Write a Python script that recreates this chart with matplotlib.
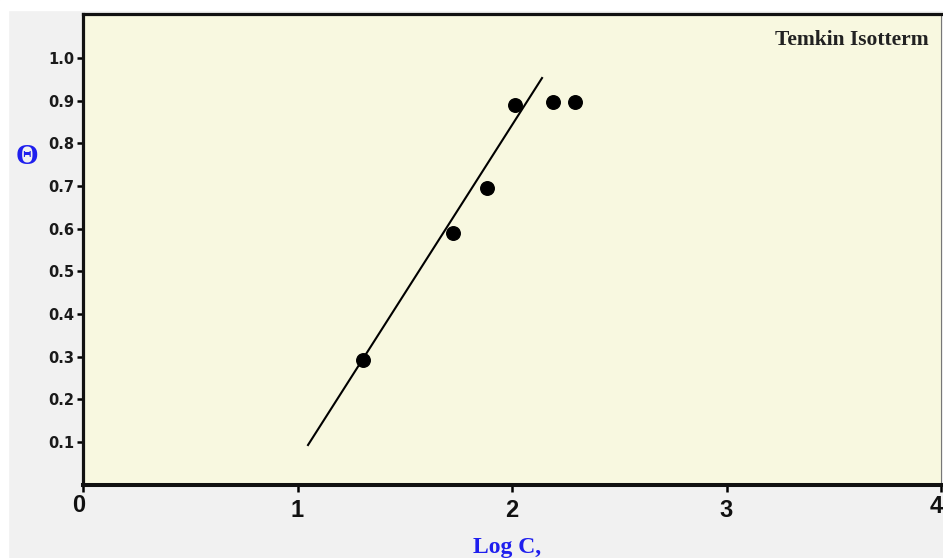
import matplotlib.pyplot as plt
from matplotlib.patches import Rectangle

# data
log_c = [1.305, 1.725, 1.883, 2.014, 2.191, 2.294]
theta = [0.292, 0.589, 0.695, 0.890, 0.897, 0.897]
fit_x = [1.049, 2.140]
fit_y = [0.093, 0.953]
y_ticks = [0.1, 0.2, 0.3, 0.4, 0.5, 0.6, 0.7, 0.8, 0.9, 1.0]
x_ticks = [0, 1, 2, 3, 4]

W, H = 943, 558
fig = plt.figure(figsize=(W / 100, H / 100), dpi=100, facecolor='#f1f1f1')
# white strips at top and left edge
fig.patches.append(Rectangle((0, 1 - 10 / H), 1, 10 / H, transform=fig.transFigure,
                             color='white', zorder=-1))
fig.patches.append(Rectangle((0, 0), 8 / W, 1, transform=fig.transFigure,
                             color='white', zorder=-1))

x0, x1 = 83, 941
y0, y1 = 484.7, 14
ax = fig.add_axes([x0 / W, (H - y0) / H, (x1 - x0) / W, (y0 - y1) / H])
ax.set_facecolor('#f8f8e0')
ax.set_xlim(0, 4)
ax.set_ylim(0, 1.103)

ax.plot(fit_x, fit_y, color='black', lw=1.5, zorder=2)
ax.scatter(log_c, theta, s=95, color='black', zorder=3)

for side, lw in [('left', 2.3), ('bottom', 2.9), ('top', 2.3), ('right', 0.8)]:
    ax.spines[side].set_linewidth(lw)
    ax.spines[side].set_color('#111111')
ax.spines['right'].set_color('#777777')

ax.set_yticks(y_ticks)
ax.set_yticklabels(['%.1f' % v for v in y_ticks], fontsize=10.5, fontweight='bold',
                   family='DejaVu Sans', color='#1a1a1a')
ax.tick_params(axis='y', direction='out', length=4.5, width=1.8, pad=1.5)

ax.set_xticks(x_ticks)
ax.set_xticklabels(['' if v in (0, 4) else str(v) for v in x_ticks], fontsize=17,
                   fontweight='bold', family='Liberation Sans', color='#111111')
ax.tick_params(axis='x', direction='out', length=5, width=1.8, pad=5)
# the end labels sit a bit higher than the middle ones
ax.text(-0.02, -0.022, '0', ha='center', va='top', fontsize=17, fontweight='bold',
        family='Liberation Sans', color='#111111', clip_on=False)
ax.text(1.0015, -0.022, '4', transform=ax.transAxes, ha='right', va='top', fontsize=17,
        fontweight='bold', family='Liberation Sans', color='#111111', clip_on=False)

ax.text(0.985, 0.967, 'Temkin Isotterm', transform=ax.transAxes, ha='right', va='top',
        fontsize=15.5, fontweight='bold', family='Liberation Serif', color='#222222')

fig.text(27 / W, 1 - 156 / H, '\u0398', ha='center', va='center', fontsize=21,
         fontweight='bold', family='Liberation Serif', color='#1f1fee')
fig.text(507 / W, 1 - 553 / H, 'Log C,', ha='center', va='baseline', fontsize=17,
         fontweight='bold', family='Liberation Serif', color='#1f1fee')

fig.savefig('out.png', dpi=100, facecolor=fig.get_facecolor())
